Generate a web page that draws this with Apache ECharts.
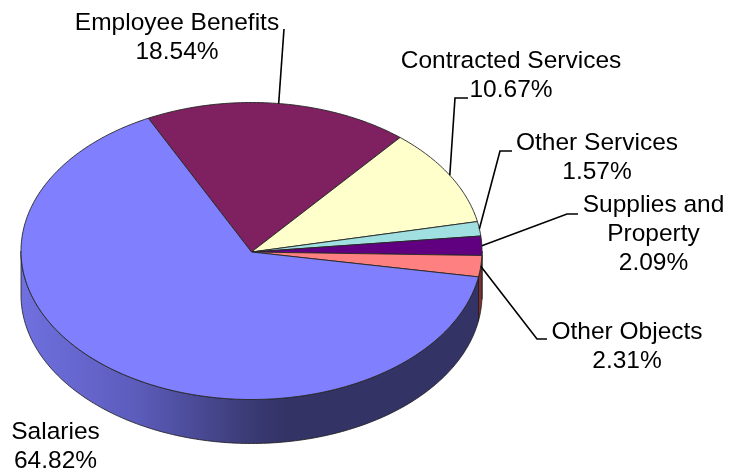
<!DOCTYPE html>
<html>
<head>
<meta charset="utf-8">
<style>html,body{margin:0;padding:0;background:#fff}#chart{width:729px;height:472px}</style>
<script src="https://cdn.jsdelivr.net/npm/echarts@6/dist/echarts.min.js"></script>
</head>
<body>
<div id="chart"></div>
<script>
// Budget shares, clockwise from the Employee Benefits slice.
const categories = ['Employee Benefits', 'Contracted Services', 'Other Services', 'Supplies and\nProperty', 'Other Objects', 'Salaries'];
const shares = [18.54, 10.67, 1.57, 2.09, 2.31, 64.82];

const sliceColors = ['#7F2060', '#FFFFCC', '#A0E0E0', '#600080', '#FF8080', '#8080FF'];
const wallColors = ['#401030', '#808066', '#507070', '#300040', '#803030', {
  type: 'linear', x: 21, y: 0, x2: 482, y2: 0, global: true,
  colorStops: [
    { offset: 0, color: '#7070E0' },
    { offset: 0.25, color: '#5C5CBC' },
    { offset: 0.5, color: '#3A3A74' },
    { offset: 0.58, color: '#333366' },
    { offset: 1, color: '#333366' }
  ]
}];

// Label anchors and leader bends, in page pixels.
const labelAnchors = [[177, 37.5], [511, 75.5], [597, 157.5], [653.5, 234.5], [627, 346.5], [55.5, 446.5]];
const leaderBends = [
  [[284, 29]],
  [[455, 98], [468, 98]],
  [[500, 151], [512, 151]],
  [[567, 214], [578, 214]],
  [[537, 339], [547, 339]],
  null
];

// Tilted disc geometry.
const disc = { cx: 251.5, cy: 251, rx: 230.5, ry: 148.5, depth: 44, start: -26.6 };
const total = shares.reduce((a, b) => a + b, 0);

function rim(deg, drop) {
  const r = deg * Math.PI / 180;
  return [disc.cx + disc.rx * Math.sin(r), disc.cy - disc.ry * Math.cos(r) + (drop || 0)];
}
function arc(a, b, drop) {
  const pts = [];
  const n = Math.max(2, Math.ceil(Math.abs(b - a)));
  for (let i = 0; i <= n; i++) pts.push(rim(a + (b - a) * i / n, drop));
  return pts;
}

function renderSlice(params, api) {
  const i = params.dataIndex;
  let before = 0;
  for (let k = 0; k < i; k++) before += shares[k];
  const value = api.value(0);
  const a = disc.start + before / total * 360;
  const b = a + value / total * 360;
  const mid = (a + b) / 2;
  const children = [];

  // Side wall: only the part of the rim facing the viewer (90deg to 270deg).
  const wa = Math.max(a, 90), wb = Math.min(b, 270);
  if (wb > wa) {
    children.push({
      type: 'polygon',
      shape: { points: arc(wa, wb, 0).concat(arc(wb, wa, disc.depth)) },
      style: { fill: wallColors[i], stroke: '#1c1c1c', lineWidth: 0.8 }
    });
  }
  // Top face, with its apex just below the ellipse centre.
  children.push({
    type: 'polygon',
    shape: { points: [[disc.cx, disc.cy + 1]].concat(arc(a, b, 0)) },
    style: { fill: sliceColors[i], stroke: '#262626', lineWidth: 0.9, lineJoin: 'round' }
  });
  // Leader line from the slice's mid-angle on the rim.
  if (leaderBends[i]) {
    children.push({
      type: 'polyline',
      shape: { points: [rim(mid, 0)].concat(leaderBends[i]) },
      style: { fill: null, stroke: '#000', lineWidth: 1.6 }
    });
  }
  // Name and percentage.
  children.push({
    type: 'text',
    style: {
      text: api.value(1) + '\n' + value.toFixed(2) + '%',
      x: labelAnchors[i][0], y: labelAnchors[i][1],
      align: 'center', verticalAlign: 'middle',
      font: '24.5px "Liberation Sans", Arial, sans-serif',
      lineHeight: 29, fill: '#000'
    }
  });
  return { type: 'group', children: children };
}

const chart = echarts.init(document.getElementById('chart'), null, { renderer: 'canvas' });
chart.setOption({
  animation: false,
  backgroundColor: '#fff',
  series: [{
    type: 'custom',
    coordinateSystem: 'none',
    silent: true,
    renderItem: renderSlice,
    encode: { tooltip: 0 },
    data: shares.map((v, i) => [v, categories[i]])
  }]
});
</script>
</body>
</html>
